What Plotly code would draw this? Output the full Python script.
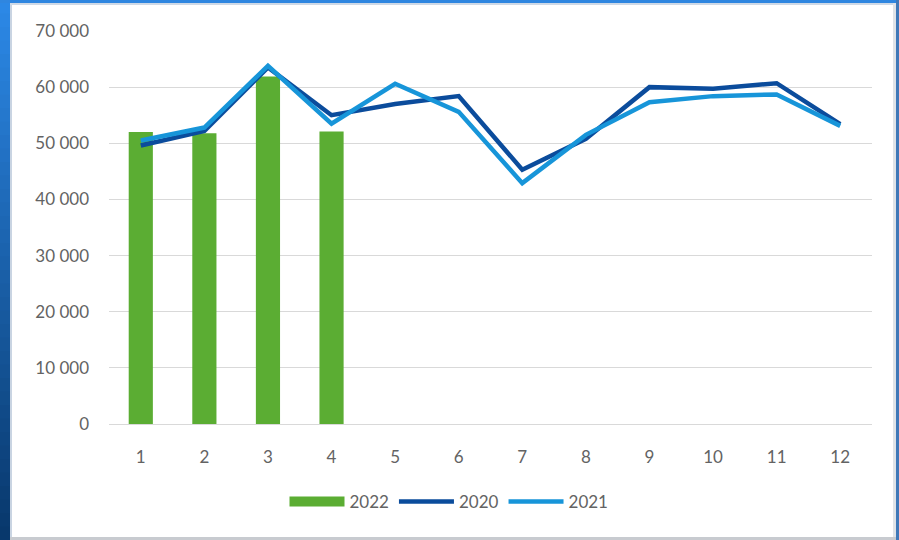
import plotly.graph_objects as go

months = [1, 2, 3, 4, 5, 6, 7, 8, 9, 10, 11, 12]
sales_2022 = [52000, 51800, 61900, 52100]
sales_2020 = [49600, 52200, 63500, 55000, 57000, 58400, 45300, 50800, 60000, 59700, 60700, 53400]
sales_2021 = [50500, 52800, 63800, 53500, 60600, 55600, 42900, 51500, 57300, 58400, 58700, 53100]
y_ticks = [0, 10000, 20000, 30000, 40000, 50000, 60000, 70000]

W, H = 899, 540
L, R, T, B = 109, 872, 31, 424


def px(x):
    return (x - L) / (R - L)


def py(y):
    return (B - y) / (B - T)


fig = go.Figure()
fig.add_trace(go.Bar(x=months[:len(sales_2022)], y=sales_2022, name="2022",
                     marker=dict(color="#5bad33", line=dict(width=0)), width=0.38,
                     showlegend=False, legendgroup="2022"))
# legend entry for the bars, drawn as a wide block
fig.add_trace(go.Scatter(x=[None], y=[None], name="2022", mode="lines", legendgroup="2022",
                         line=dict(color="#5bad33", width=11)))
fig.add_trace(go.Scatter(x=months, y=sales_2020, name="2020", mode="lines",
                         line=dict(color="#0b4c9c", width=4.5)))
fig.add_trace(go.Scatter(x=months, y=sales_2021, name="2021", mode="lines",
                         line=dict(color="#1795d9", width=4.5)))

shapes = []
n = 40
c0 = (0x2c, 0x88, 0xe6)
c1 = (0x08, 0x38, 0x6c)
for i in range(n):
    t = i / (n - 1)
    col = "rgb(%d,%d,%d)" % tuple(round(a + (b - a) * t) for a, b in zip(c0, c1))
    y0 = H * i / n
    y1 = H * (i + 1) / n + 0.5
    shapes.append(dict(type="rect", xref="paper", yref="paper", x0=px(0), x1=px(10),
                       y0=py(y1), y1=py(y0), fillcolor=col, line=dict(width=0), layer="below"))
shapes.append(dict(type="rect", xref="paper", yref="paper", x0=px(10), x1=px(12),
                   y0=py(H), y1=py(3), fillcolor="#c9d4e2", line=dict(width=0), layer="below"))
shapes.append(dict(type="rect", xref="paper", yref="paper", x0=px(0), x1=px(W),
                   y0=py(3), y1=py(0), fillcolor="#2f86e0", line=dict(width=0), layer="below"))
shapes.append(dict(type="rect", xref="paper", yref="paper", x0=px(10), x1=px(W),
                   y0=py(5), y1=py(3), fillcolor="#cfd9e6", line=dict(width=0), layer="below"))
shapes.append(dict(type="rect", xref="paper", yref="paper", x0=px(896), x1=px(W),
                   y0=py(H), y1=py(0), fillcolor="#3f78b8", line=dict(width=0), layer="below"))
shapes.append(dict(type="rect", xref="paper", yref="paper", x0=px(893), x1=px(896),
                   y0=py(H), y1=py(3), fillcolor="#dfe3e8", line=dict(width=0), layer="below"))
shapes.append(dict(type="rect", xref="paper", yref="paper", x0=px(10), x1=px(896),
                   y0=py(H), y1=py(537), fillcolor="#c8cbd0", line=dict(width=0), layer="below"))

fig.update_layout(
    width=W, height=H,
    margin=dict(l=L, r=W - R, t=T, b=H - B, pad=0),
    paper_bgcolor="white", plot_bgcolor="white",
    font=dict(family="Lato, 'Open Sans', sans-serif", size=17, color="#636363"),
    showlegend=True,
    legend=dict(orientation="h", x=px(449), xanchor="center", y=py(502), yanchor="middle",
                font=dict(size=17, color="#636363"), traceorder="normal",
                itemwidth=55, bgcolor="rgba(0,0,0,0)"),
    xaxis=dict(range=[0.5, 12.5], tickmode="array", tickvals=months,
               ticktext=[str(m) for m in months], showgrid=False, showline=True,
               linecolor="#d9d9d9", linewidth=1, ticks="", ticklabelstandoff=18,
               zeroline=False, fixedrange=True),
    yaxis=dict(range=[0, 70000], tickmode="array", tickvals=y_ticks,
               ticktext=[f"{v:,}".replace(",", " ") for v in y_ticks],
               showgrid=True, gridcolor="#d9d9d9", gridwidth=1, showline=False,
               zeroline=False, ticks="", ticklabelstandoff=19, fixedrange=True),
    shapes=shapes,
)

fig.write_html("out.html", config={"displayModeBar": False},
               post_script="document.body.style.margin='0';document.body.style.overflow='hidden';")
